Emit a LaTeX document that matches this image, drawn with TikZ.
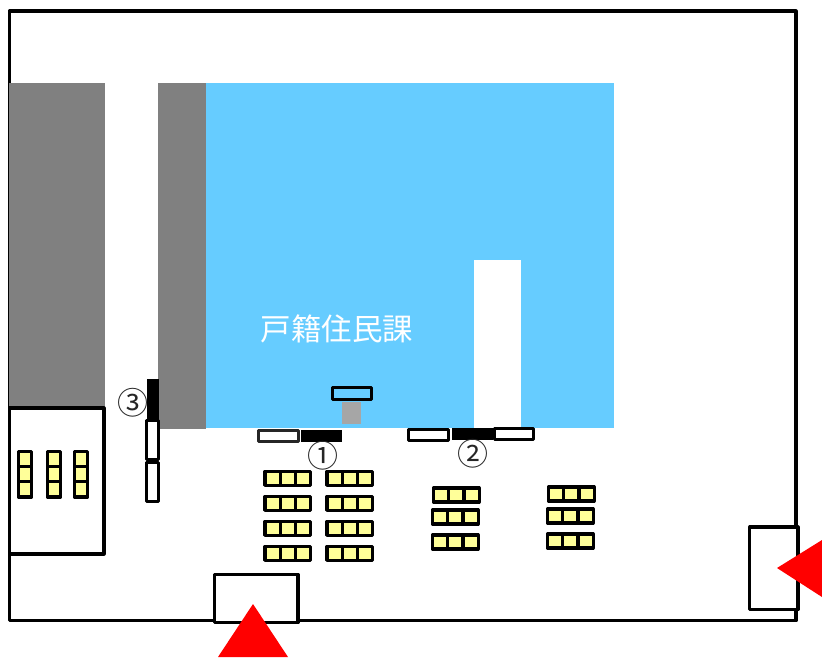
\documentclass[tikz,border=0pt]{standalone}
\usepackage{fontspec}
\setmainfont{Noto Sans CJK JP}
\tikzset{
  wall/.style={draw=black,line width=3.2pt,fill=white,line join=round},
  thinwall/.style={draw=black,line width=3pt,fill=white,line join=round},
  chaircell/.style={draw=black,line width=3.2pt,fill=chairyellow,line join=round},
  mark label/.style={inner sep=0pt,font=\fontsize{31}{31}\selectfont,text=black!85}
}
\definecolor{chairyellow}{HTML}{FFFF99}
\definecolor{roomblue}{HTML}{66CCFF}
\definecolor{pillar}{HTML}{A6A6A6}
\newcommand{\hchairs}[2]{% left x, top y
  \foreach \k in {0,1,2}{\draw[chaircell] ({#1+\k*15.2},#2) rectangle ++(15.2,14);}}
\newcommand{\vchairs}[2]{%
  \foreach \k in {0,1,2}{\draw[chaircell] (#1,{#2+\k*15.2}) rectangle ++(13.4,15.2);}}
\begin{document}
\begin{tikzpicture}[x=1pt,y=-1pt]
\useasboundingbox (0,0) rectangle (822,657);
\fill[white] (0,0) rectangle (822,657);
% outer wall
\draw[wall] (9.500,11) rectangle (796,620.800);
% grey bands and room
\fill[gray] (9,83) rectangle (105,408);
\fill[gray] (158,83) rectangle (206,429);
\fill[roomblue] (206,83) rectangle (614,428);
\fill[white] (474,260) rectangle (521,428);
% left room
\draw[wall] (9.500,408) rectangle (104,554);
% chairs in left room
\vchairs{18.300}{451.300}
\vchairs{47.300}{451.300}
\vchairs{74.300}{451.300}
% counter 3
\fill[black] (147,379) rectangle (159,420);
\draw[thinwall] (146.700,420) rectangle (158,459);
\draw[thinwall] (146.700,462) rectangle (158,501);
% desk and pillar
\fill[pillar] (342,402) rectangle (361,424);
\draw[draw=black,line width=3pt,fill=roomblue,line join=round] (332.500,387.500) rectangle (371.500,399.500);
% counter 1
\draw[draw=black!85,line width=3pt,fill=white,line join=round] (258.500,430) rectangle (298,441.500);
\fill[black] (301,430) rectangle (342,442);
% counter 2
\draw[thinwall] (408.500,429) rectangle (448,440.500);
\fill[black] (452,428) rectangle (493,440);
\draw[thinwall] (494.500,428) rectangle (533.500,439.500);
% chairs
\foreach \y in {471.300,496.300,521.300,546.300}{\hchairs{265}{\y}\hchairs{327}{\y}}
\hchairs{433.500}{488}
\hchairs{432.500}{510}
\hchairs{432.500}{535}
\hchairs{548.500}{487}
\hchairs{547.500}{509}
\hchairs{547.500}{534}
% doors
\draw[wall] (214.700,574.500) rectangle (298,622.500);
\draw[wall] (749.700,527) rectangle (798,609.500);
% entrance arrows
\fill[red] (253,604) -- (288,657) -- (218,657) -- cycle;
\fill[red] (777,568) -- (822,540) -- (822,597) -- cycle;
% labels
\node[inner sep=0pt,text=white,font=\fontsize{30.500}{31}\selectfont] (room) at (337,329) {戸籍住民課};
\node[mark label] (m1) at (322.500,456) {①};
\node[mark label] (m2) at (472.500,454) {②};
\node[mark label] (m3) at (133,403) {③};
\end{tikzpicture}
\end{document}
